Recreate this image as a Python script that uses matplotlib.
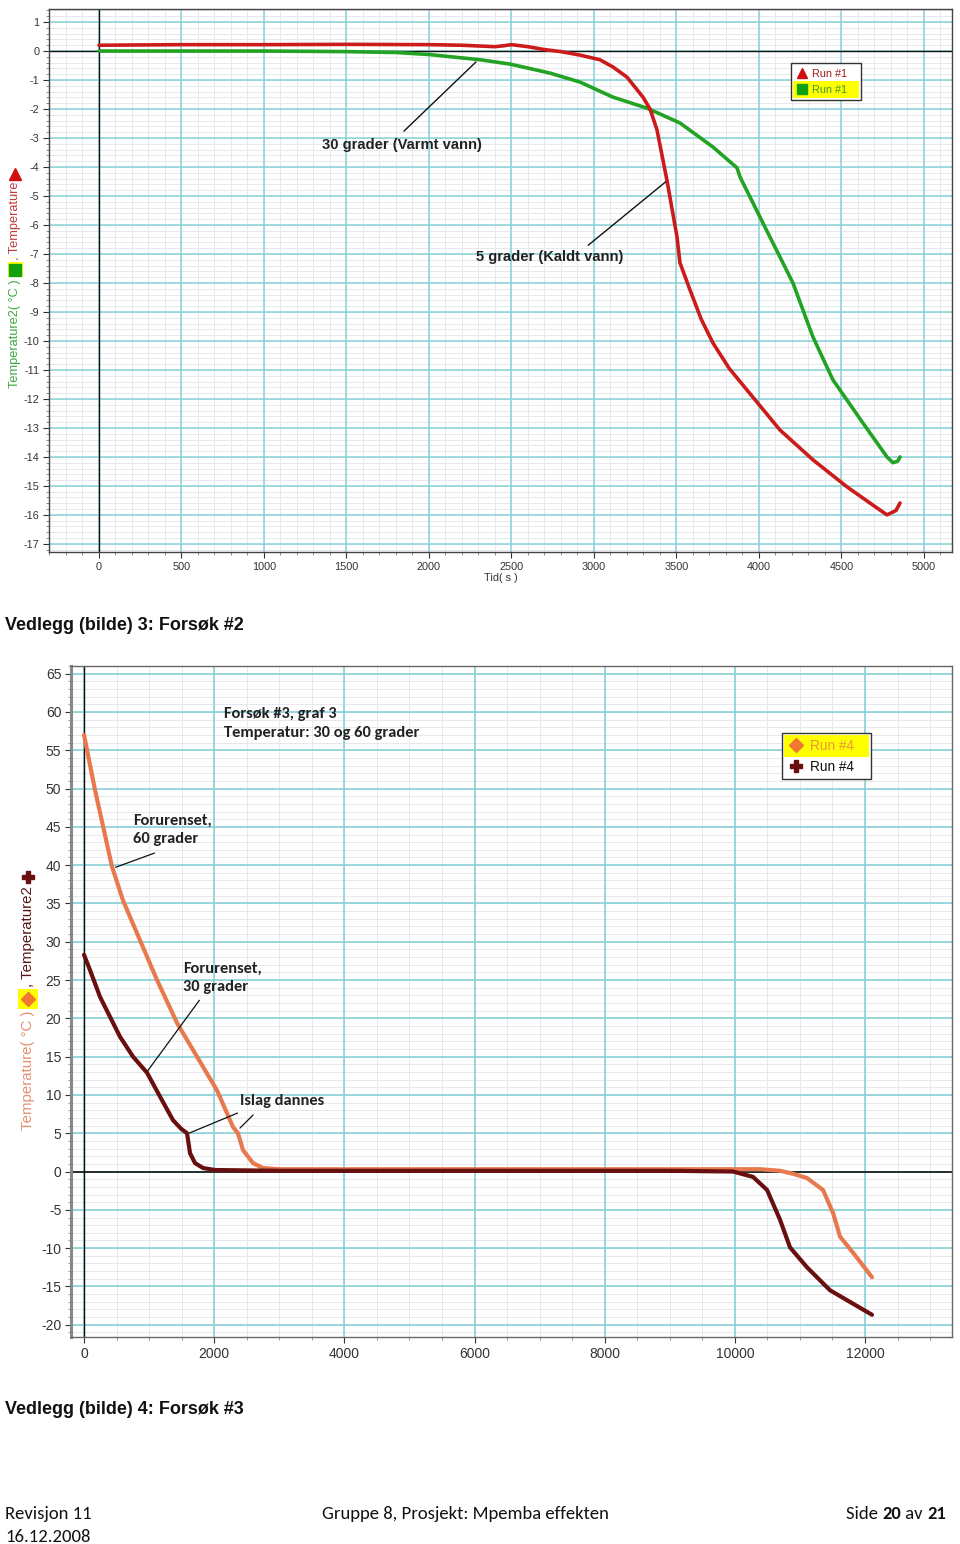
import matplotlib
matplotlib.use('Agg')
import numpy as np
import matplotlib.pyplot as plt
from matplotlib.lines import Line2D
from matplotlib.patches import Rectangle
from matplotlib.ticker import MultipleLocator
from matplotlib import font_manager

# ---------------- data ----------------
# Chart 1 (Forsøk #2)
red_t = [0, 500, 1000, 1500, 2000, 2200, 2400, 2450, 2500, 2600, 2700, 2800, 2915, 3036,
         3115, 3200, 3297, 3340, 3382, 3442, 3503, 3521, 3582, 3650, 3721, 3820, 3927, 4127, 4327,
         4533, 4700, 4776, 4830, 4855]
red_v = [0.2, 0.22, 0.22, 0.23, 0.22, 0.2, 0.15, 0.18, 0.22, 0.15, 0.05, -0.02, -0.14, -0.3,
         -0.55, -0.9, -1.59, -2.0, -2.72, -4.45, -6.4, -7.3, -8.24, -9.25, -10.07, -10.95, -11.69,
         -13.07, -14.1, -15.03, -15.7, -16.0, -15.85, -15.59]
green_t = [0, 500, 1000, 1500, 1800, 2000, 2309, 2491, 2733, 2915, 3115, 3321, 3521, 3721,
           3867, 3885, 4024, 4206, 4327, 4448, 4630, 4776, 4812, 4840, 4855]
green_v = [0.0, 0.0, 0.0, -0.02, -0.05, -0.12, -0.3, -0.45, -0.76, -1.07, -1.59, -1.97, -2.48, -3.31,
           -4.03, -4.34, -5.93, -8.0, -9.86, -11.34, -12.83, -14.0, -14.2, -14.15, -14.0]
top_xticks = [0, 500, 1000, 1500, 2000, 2500, 3000, 3500, 4000, 4500, 5000]
top_yticks = list(range(1, -18, -1))

# Chart 2 (Forsøk #3)
orange_t = [0, 169, 430, 599, 860, 1122, 1429, 1736, 2044, 2290, 2366, 2443, 2597, 2750, 3011,
            5000, 8000, 10000, 10400, 10695, 10900, 11109, 11355, 11509, 11617, 11817, 12108]
orange_v = [57.0, 49.8, 39.8, 35.4, 30.2, 25.0, 19.4, 15.0, 10.6, 5.8, 5.0, 2.8, 1.1, 0.46, 0.3,
            0.3, 0.3, 0.3, 0.3, 0.1, -0.3, -0.85, -2.4, -5.4, -8.5, -10.6, -13.8]
maroon_t = [0, 92, 246, 553, 753, 968, 1199, 1368, 1490, 1583, 1629, 1706, 1829, 2013, 3000,
            6000, 9000, 9973, 10280, 10495, 10695, 10848, 11109, 11463, 12108]
maroon_v = [28.3, 26.3, 22.8, 17.6, 15.0, 12.9, 9.3, 6.7, 5.6, 5.0, 2.4, 1.1, 0.46, 0.2, 0.1,
            0.1, 0.1, 0.0, -0.7, -2.4, -6.3, -9.9, -12.5, -15.5, -18.7]
bot_xticks = [0, 2000, 4000, 6000, 8000, 10000, 12000]
bot_yticks = list(range(65, -21, -5))

# ---------------- fonts ----------------
names = {f.name for f in font_manager.fontManager.ttflist}
ARIAL = 'Liberation Sans' if 'Liberation Sans' in names else 'DejaVu Sans'
NARROW = 'Liberation Sans Narrow' if 'Liberation Sans Narrow' in names else ARIAL
CAL = 'Carlito' if 'Carlito' in names else ('Lato' if 'Lato' in names else ARIAL)

W, H = 960, 1544
fig = plt.figure(figsize=(W / 100, H / 100), dpi=100)
fig.patch.set_facecolor('white')


def fx(px):
    return px / W


def fy(py):
    return 1 - py / H


RED = '#CC1B1B'
GREEN = '#23A323'
ORANGE = '#E8794F'
MAROON = '#690F0F'
MAJ = '#88D2D8'
MIN = '#E6E8EC'


def minor_grid(ax, xstep, ystep):
    x0, x1 = ax.get_xlim()
    y0, y1 = ax.get_ylim()
    xs = np.arange(np.ceil(x0 / xstep) * xstep, x1, xstep)
    ys = np.arange(np.ceil(y0 / ystep) * ystep, y1, ystep)
    ax.vlines(xs, 0, 1, transform=ax.get_xaxis_transform(), colors=MIN, lw=0.7, zorder=0.1)
    ax.hlines(ys, 0, 1, transform=ax.get_yaxis_transform(), colors=MIN, lw=0.7, zorder=0.1)


# ---------------- top chart ----------------
ax1 = fig.add_axes([fx(49), fy(552), fx(952) - fx(49), fy(9) - fy(552)])
ax1.set_xlim(-303, 5170)
ax1.set_ylim(-17.28, 1.45)
ax1.xaxis.set_minor_locator(MultipleLocator(100))
ax1.yaxis.set_minor_locator(MultipleLocator(0.2))
ax1.set_xticks(top_xticks)
ax1.set_yticks(top_yticks)
ax1.set_xticklabels([str(v) for v in top_xticks])
ax1.set_yticklabels([str(v) for v in top_yticks])
minor_grid(ax1, 100, 0.2)
ax1.grid(which='major', color=MAJ, lw=1.1)
ax1.set_axisbelow(True)
ax1.axhline(0, color='#111', lw=1.0, zorder=1.5)
ax1.axvline(0, color='#111', lw=1.0, zorder=1.5)
ax1.plot(green_t, green_v, color=GREEN, lw=2.6, solid_capstyle='round', solid_joinstyle='round', zorder=3)
ax1.plot(red_t, red_v, color=RED, lw=2.6, solid_capstyle='round', solid_joinstyle='round', zorder=3)
for s in ax1.spines.values():
    s.set_color('#444')
    s.set_linewidth(1.0)
ax1.tick_params(which='major', labelsize=7.8, length=4, pad=3, colors='#333')
ax1.tick_params(which='minor', length=2, colors='#777')
for lab in ax1.get_xticklabels() + ax1.get_yticklabels():
    lab.set_fontfamily(ARIAL)
ax1.set_xlabel('Tid( s )', fontsize=7.8, family=ARIAL, color='#333', labelpad=1)

ax1.annotate('', xy=(2297, -0.31), xytext=(1836, -2.83),
             arrowprops=dict(arrowstyle='-', color='#111', lw=1.0))
ax1.text(1836, -3.24, '30 grader (Varmt vann)', ha='center', va='center',
         fontsize=10.6, fontweight='bold', family=ARIAL, color='#222')
ax1.annotate('', xy=(3448, -4.45), xytext=(2952, -6.76),
             arrowprops=dict(arrowstyle='-', color='#111', lw=1.0))
ax1.text(2733, -7.10, '5 grader (Kaldt vann)', ha='center', va='center',
         fontsize=10.6, fontweight='bold', family=ARIAL, color='#222')

# ---------------- bottom chart ----------------
ax2 = fig.add_axes([fx(71), fy(1337), fx(952) - fx(71), fy(666) - fy(1337)])
ax2.set_xlim(-200, 13337)
ax2.set_ylim(-21.6, 66.0)
ax2.xaxis.set_minor_locator(MultipleLocator(500))
ax2.yaxis.set_minor_locator(MultipleLocator(1))
ax2.set_xticks(bot_xticks)
ax2.set_yticks(bot_yticks)
ax2.set_xticklabels([str(v) for v in bot_xticks])
ax2.set_yticklabels([str(v) for v in bot_yticks])
minor_grid(ax2, 500, 1)
ax2.grid(which='major', color=MAJ, lw=1.2)
ax2.set_axisbelow(True)
ax2.axhline(0, color='#111', lw=1.2, zorder=1.5)
ax2.axvline(0, color='#111', lw=1.0, zorder=1.5)
ax2.plot(orange_t, orange_v, color=ORANGE, lw=3.0, solid_capstyle='round', solid_joinstyle='round', zorder=3)
ax2.plot(maroon_t, maroon_v, color=MAROON, lw=3.0, solid_capstyle='round', solid_joinstyle='round', zorder=3)
for s in ax2.spines.values():
    s.set_color('#666')
    s.set_linewidth(1.0)
ax2.spines['left'].set_linewidth(2.2)
ax2.spines['left'].set_color('#888')
ax2.tick_params(which='major', labelsize=10, length=4, pad=3, colors='#333')
ax2.tick_params(which='minor', length=2, colors='#888')
for lab in ax2.get_xticklabels() + ax2.get_yticklabels():
    lab.set_fontfamily(ARIAL)

AFS = 11.8
LS = 1.42
ax2.text(2151, 58.5, 'Forsøk #3, graf 3\nTemperatur: 30 og 60 grader', ha='left', va='center',
         fontsize=AFS, fontweight='bold', family=CAL, color='#222', linespacing=LS)
ax2.text(753, 44.6, 'Forurenset,\n60 grader', ha='left', va='center',
         fontsize=AFS, fontweight='bold', family=CAL, color='#222', linespacing=LS)
ax2.annotate('', xy=(446, 39.6), xytext=(1122, 41.7),
             arrowprops=dict(arrowstyle='-', color='#111', lw=0.9))
ax2.text(1521, 25.3, 'Forurenset,\n30 grader', ha='left', va='center',
         fontsize=AFS, fontweight='bold', family=CAL, color='#222', linespacing=LS)
ax2.annotate('', xy=(953, 12.86), xytext=(1798, 22.65),
             arrowprops=dict(arrowstyle='-', color='#111', lw=0.9))
ax2.text(2397, 9.2, 'Islag dannes', ha='left', va='center',
         fontsize=AFS, fontweight='bold', family=CAL, color='#222')
ax2.annotate('', xy=(1583, 4.9), xytext=(2397, 7.77),
             arrowprops=dict(arrowstyle='-', color='#111', lw=0.9))
ax2.annotate('', xy=(2366, 5.42), xytext=(2628, 7.64),
             arrowprops=dict(arrowstyle='-', color='#111', lw=0.9))


# ---------------- legends ----------------
def fig_rect(x0, y0, x1, y1, **kw):
    fig.add_artist(Rectangle((fx(x0), fy(y1)), fx(x1) - fx(x0), fy(y0) - fy(y1),
                             transform=fig.transFigure, **kw))


def fig_marker(x, y, marker, color, size, mew=1.0):
    fig.add_artist(Line2D([fx(x)], [fy(y)], marker=marker, color=color, markersize=size,
                          markeredgecolor=color, markeredgewidth=mew, linestyle='none',
                          transform=fig.transFigure, zorder=8))


# top legend
fig_rect(791, 63, 861, 100, facecolor='white', edgecolor='#333', lw=1.0, zorder=5)
fig_rect(793, 81, 859, 98, facecolor='#FFFF00', edgecolor='none', zorder=5)
fig_marker(802, 73, '^', '#D01010', 7)
fig.text(fx(812), fy(74), 'Run #1', fontsize=7.8, family=ARIAL, color='#A01818', va='center', zorder=6)
fig_marker(802, 89, 's', '#10A010', 7)
fig.text(fx(812), fy(90), 'Run #1', fontsize=7.8, family=ARIAL, color='#3A9A30', va='center', zorder=6)

# bottom legend
fig_rect(782, 733, 871, 779, facecolor='white', edgecolor='#333', lw=1.0, zorder=5)
fig_rect(784, 735, 869, 757, facecolor='#FFFF00', edgecolor='none', zorder=5)
fig_marker(796, 745, 'D', '#F07830', 7)
fig.text(fx(810), fy(746), 'Run #4', fontsize=9.8, family=ARIAL, color='#E89840', va='center', zorder=6)
fig_marker(796, 766, 'P', '#6A0E0E', 9)
fig.text(fx(810), fy(767), 'Run #4', fontsize=9.8, family=ARIAL, color='#111', va='center', zorder=6)

# ---------------- rotated y labels ----------------
renderer = fig.canvas.get_renderer()


def vstack(x_px, y_px, pieces, fs):
    y = y_px
    for p in pieces:
        kind = p[0]
        if kind == 'text':
            _, s, color, gap = p
            t = fig.text(fx(x_px), fy(y), s, rotation=90, ha='center', va='bottom',
                         fontsize=fs, family=ARIAL, color=color)
            bb = t.get_window_extent(renderer=renderer)
            y -= bb.height + gap
        else:
            _, marker, color, box, msize, gap = p
            if box:
                fig_rect(x_px - box / 2, y - box, x_px + box / 2, y, facecolor='#FFFF00',
                         edgecolor='none', zorder=5)
                fig_marker(x_px, y - box / 2, marker, color, msize)
                y -= box + gap
            else:
                fig_marker(x_px, y - msize * 0.7, marker, color, msize)
                y -= msize * 1.4 + gap


vstack(15, 388, [('text', 'Temperature2( °C )', '#3DA83D', 2),
                 ('mark', 's', '#10A010', 15, 8, 2),
                 ('text', ', Temperature', '#C03A3A', 2),
                 ('mark', '^', '#D01010', 0, 8, 0)], 9.2)

vstack(28, 1130, [('text', 'Temperature( °C )', '#E49070', 2),
                  ('mark', 'D', '#F07830', 20, 7, 2),
                  ('text', ', Temperature2', '#5A1515', 2),
                  ('mark', 'P', '#6A0E0E', 0, 9, 0)], 10.8)

# ---------------- captions & footer ----------------
fig.text(fx(5), fy(625), 'Vedlegg (bilde) 3: Forsøk #2', fontsize=13, fontweight='bold',
         family=NARROW, color='#111', va='center', ha='left')
fig.text(fx(5), fy(1409), 'Vedlegg (bilde) 4: Forsøk #3', fontsize=13, fontweight='bold',
         family=NARROW, color='#111', va='center', ha='left')

FFS = 13.4
fig.text(fx(5), fy(1514), 'Revisjon 11', fontsize=FFS, family=CAL, color='#111', va='center')
fig.text(fx(5), fy(1537), '16.12.2008', fontsize=FFS, family=CAL, color='#111', va='center')
fig.text(fx(465), fy(1514), 'Gruppe 8, Prosjekt: Mpemba effekten', fontsize=FFS, family=CAL,
         color='#111', va='center', ha='center')

# "Side 20 av 21" with bold numbers, laid out right to left
xr = 946
for s, wt in [('21', 'bold'), (' av ', 'normal'), ('20', 'bold'), ('Side ', 'normal')]:
    t = fig.text(fx(xr), fy(1514), s, fontsize=FFS, family=CAL, fontweight=wt,
                 color='#111', va='center', ha='right')
    bb = t.get_window_extent(renderer=renderer)
    xr -= bb.width

fig.savefig('out.png', dpi=100, facecolor='white')
